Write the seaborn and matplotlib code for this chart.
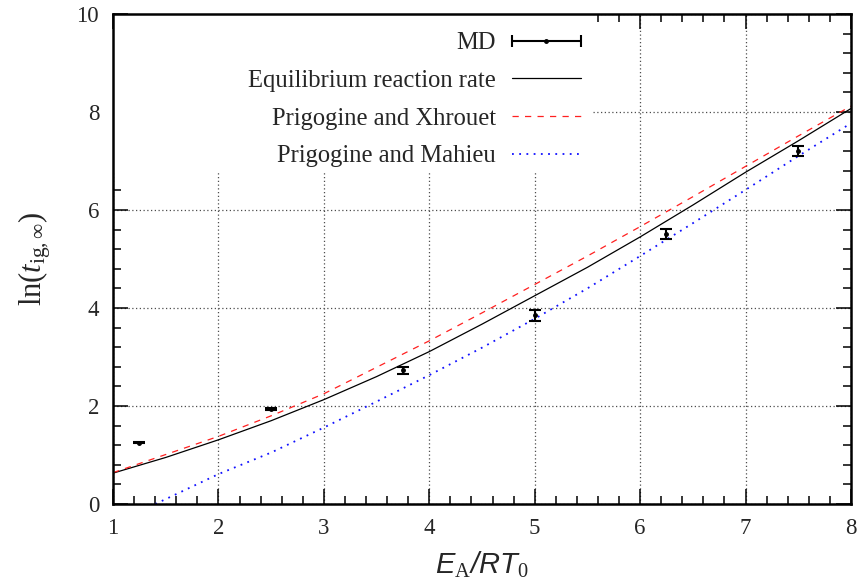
import numpy as np
import pandas as pd
import matplotlib.pyplot as plt
import seaborn as sns
from matplotlib.ticker import MultipleLocator
from matplotlib.patches import Rectangle
from matplotlib.container import ErrorbarContainer
from matplotlib.legend_handler import HandlerErrorbar

# values
md_x = [1.25, 2.5, 3.75, 5.0, 6.25, 7.5]
md_y = [1.25, 1.94, 2.73, 3.85, 5.51, 7.21]
md_err = [0.01, 0.015, 0.075, 0.11, 0.10, 0.10]

curve_x = [1.0, 1.5, 2.0, 2.5, 3.0, 3.5, 4.0, 4.5, 5.0, 5.5, 6.0, 6.5, 7.0, 7.5, 8.0]
equilibrium_y = [0.63, 0.95, 1.31, 1.70, 2.13, 2.60, 3.11, 3.67, 4.25, 4.83, 5.45, 6.10, 6.77, 7.41, 8.07]
xhrouet_y = [0.64, 1.01, 1.38, 1.80, 2.25, 2.79, 3.33, 3.90, 4.48, 5.06, 5.66, 6.27, 6.89, 7.51, 8.12]

mahieu_x = [1.4, 1.5, 2.0, 2.5, 3.0, 3.5, 4.0, 4.5, 5.0, 5.5, 6.0, 6.5, 7.0, 7.5, 8.0]
mahieu_y = [0.0, 0.10, 0.61, 1.05, 1.56, 2.09, 2.63, 3.19, 3.78, 4.40, 5.06, 5.73, 6.41, 7.10, 7.77]

sns.set_theme(style="white")
plt.rcParams['font.family'] = ['Liberation Serif', 'DejaVu Sans']
plt.rcParams.update({
    'mathtext.fontset': 'custom',
    'mathtext.rm': 'Liberation Serif',
    'mathtext.it': 'Liberation Serif:italic',
    'mathtext.sf': 'Liberation Sans:italic',
    'axes.edgecolor': 'black',
    'axes.linewidth': 1.8,
})

fig = plt.figure(figsize=(8.63, 5.83), dpi=100)
ax = fig.add_axes([0.131, 0.1355, 0.855, 0.8405])

# grid under an opaque key area, as in the original
ax.set_axisbelow(True)
ax.grid(True, which='major', color='0.3', linestyle=(0, (1, 2)), linewidth=0.9)
ax.add_patch(Rectangle((0, 0.678), 0.65, 0.322, transform=ax.transAxes,
                       facecolor='white', edgecolor='none', zorder=0.8))

df_eq = pd.DataFrame({'x': curve_x, 'y': equilibrium_y})
df_px = pd.DataFrame({'x': curve_x, 'y': xhrouet_y})
df_pm = pd.DataFrame({'x': mahieu_x, 'y': mahieu_y})

ax.errorbar(md_x, md_y, yerr=md_err, fmt='o', color='black', ms=2.5,
            elinewidth=1.5, capsize=4.5, capthick=1.5, zorder=3)
sns.lineplot(data=df_eq, x='x', y='y', color='black', linewidth=0.9, ax=ax, zorder=2)
sns.lineplot(data=df_px, x='x', y='y', color='#ff2020', linewidth=0.9,
             linestyle=(0, (5, 5)), ax=ax, zorder=2)
sns.lineplot(data=df_pm, x='x', y='y', color='#1010ff', linewidth=1.3,
             linestyle=(0, (1.0, 3.0)), ax=ax, zorder=2)

# legend handles (key style of the original: labels on the left)
h_md = ax.errorbar([np.nan], [np.nan], xerr=[1], fmt='o', color='black', ms=2.5,
                   elinewidth=1.5, capsize=4.5, capthick=1.5)
h_eq = plt.Line2D([], [], color='black', linewidth=0.9)
h_px = plt.Line2D([], [], color='#ff2020', linewidth=0.9, linestyle=(0, (5, 5)))
h_pm = plt.Line2D([], [], color='#1010ff', linewidth=1.3, linestyle=(0, (1.0, 3.0)))
ax.legend([h_md, h_eq, h_px, h_pm],
          ['MD', 'Equilibrium reaction rate', 'Prigogine and Xhrouet', 'Prigogine and Mahieu'],
          loc='upper right', bbox_to_anchor=(0.634, 0.963), frameon=False,
          markerfirst=False, numpoints=1, fontsize=17.7, handlelength=2.8,
          handletextpad=0.65, labelspacing=0.63, borderpad=0, borderaxespad=0,
          handler_map={ErrorbarContainer: HandlerErrorbar(xerr_size=1.4)})

ax.set_xlim(1, 8)
ax.set_ylim(0, 10)
ax.xaxis.set_major_locator(MultipleLocator(1))
ax.xaxis.set_minor_locator(MultipleLocator(0.2))
ax.yaxis.set_major_locator(MultipleLocator(2))
ax.yaxis.set_minor_locator(MultipleLocator(0.4))
ax.tick_params(which='both', direction='in', top=True, right=True, bottom=True, left=True,
               color='black', width=1.1, labelsize=16.5)
ax.tick_params(which='major', length=11, pad=10)
ax.tick_params(which='minor', length=6)
for s in ax.spines.values():
    s.set_linewidth(1.8)
    s.set_color('black')

ax.set_xlabel(r'$\mathsf{E}_{\mathrm{A}}\mathsf{/RT}_{\mathrm{0}}$', fontsize=21, labelpad=8)
ax.set_ylabel(r'$\mathrm{ln}(t_{\mathrm{ig,\infty}})$', fontsize=22, labelpad=17)

fig.savefig('out.png', dpi=100)
